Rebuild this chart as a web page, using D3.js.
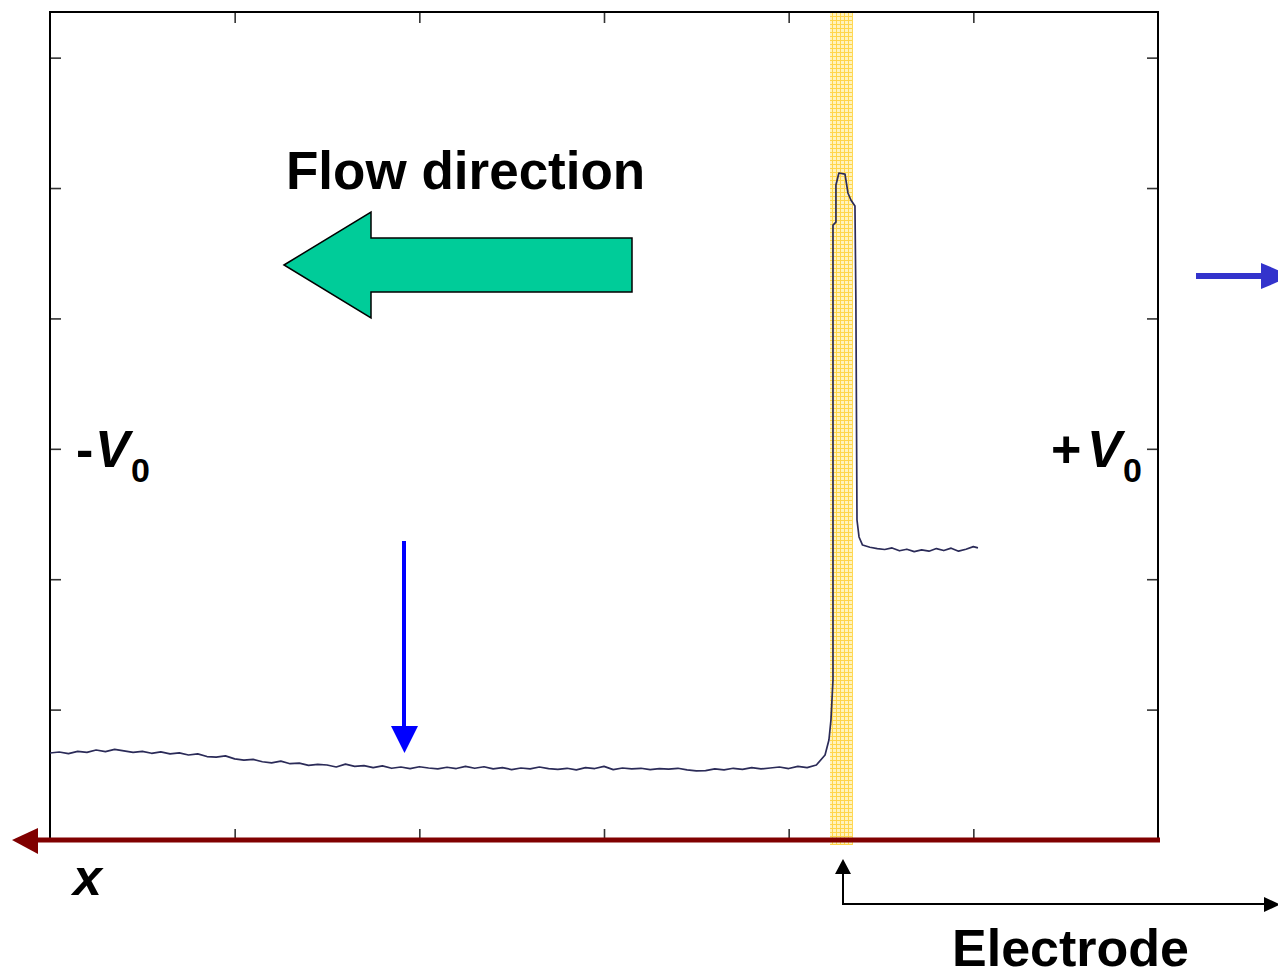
<!DOCTYPE html>
<html>
<head>
<meta charset="utf-8">
<script src="https://cdn.jsdelivr.net/npm/d3@7/dist/d3.min.js"></script>
<style>
  html, body { margin: 0; padding: 0; background: #fff; }
  svg { display: block; }
  text { font-family: "Liberation Sans", Arial, sans-serif; font-weight: bold; fill: #000; }
</style>
</head>
<body>
<svg id="chart" width="1278" height="977"></svg>
<script>
// tick positions (unlabelled in the original)
const xTicks = [1, 2, 3, 4, 5];
const yTicks = [1, 2, 3, 4, 5, 6];

// electrode band, in x units
const electrode = [4.224, 4.348];

// signal: [x, y]
const baseline = [
    [0.00, 0.667], [0.05, 0.675], [0.10, 0.662], [0.15, 0.680], [0.20, 0.672], [0.25, 0.690],
    [0.30, 0.678], [0.35, 0.695], [0.40, 0.684], [0.45, 0.672], [0.50, 0.680], [0.55, 0.665],
    [0.60, 0.676], [0.65, 0.660], [0.70, 0.668], [0.75, 0.652], [0.80, 0.660], [0.85, 0.640],
    [0.90, 0.635], [0.95, 0.645], [1.00, 0.622], [1.05, 0.612], [1.10, 0.618], [1.15, 0.600],
    [1.20, 0.592], [1.25, 0.605], [1.30, 0.585], [1.35, 0.590], [1.40, 0.572], [1.45, 0.580],
    [1.50, 0.575], [1.55, 0.560], [1.60, 0.582], [1.65, 0.565], [1.70, 0.570], [1.75, 0.555],
    [1.80, 0.568], [1.85, 0.550], [1.90, 0.560], [1.95, 0.548], [2.00, 0.562], [2.05, 0.552],
    [2.10, 0.545], [2.15, 0.558], [2.20, 0.548], [2.25, 0.565], [2.30, 0.550], [2.35, 0.562],
    [2.40, 0.545], [2.45, 0.555], [2.50, 0.540], [2.55, 0.552], [2.60, 0.545], [2.65, 0.560],
    [2.70, 0.548], [2.75, 0.542], [2.80, 0.550], [2.85, 0.538], [2.90, 0.555], [2.95, 0.548],
    [3.00, 0.565], [3.05, 0.540], [3.10, 0.552], [3.15, 0.545], [3.20, 0.550], [3.25, 0.540],
    [3.30, 0.548], [3.35, 0.543], [3.40, 0.550], [3.45, 0.538], [3.50, 0.530], [3.55, 0.532],
    [3.60, 0.545], [3.65, 0.538], [3.70, 0.550], [3.75, 0.542], [3.80, 0.555], [3.85, 0.545],
    [3.90, 0.552], [3.95, 0.560], [4.00, 0.548], [4.05, 0.565], [4.10, 0.555], [4.15, 0.575]
];
const peak = [
    [4.197, 0.652], [4.218, 0.767], [4.229, 0.920], [4.240, 1.227], [4.240, 4.716],
    [4.256, 4.739], [4.256, 5.023], [4.272, 5.115], [4.305, 5.107], [4.321, 4.962],
    [4.337, 4.908], [4.359, 4.862], [4.364, 4.141], [4.370, 2.454], [4.381, 2.324]
];
const plateau = [
    [4.40, 2.262], [4.44, 2.245], [4.48, 2.235], [4.52, 2.228], [4.56, 2.240], [4.60, 2.218],
    [4.64, 2.230], [4.68, 2.212], [4.72, 2.225], [4.76, 2.215], [4.80, 2.235], [4.84, 2.220],
    [4.88, 2.238], [4.92, 2.215], [4.96, 2.230], [5.00, 2.250], [5.025, 2.240]
];

const svg = d3.select('#chart');
const plotLeft = 50, plotRight = 1158, plotTop = 12, plotBottom = 840;

const x = d3.scaleLinear().domain([0, 6]).range([plotLeft, plotRight]);
const y = d3.scaleLinear().domain([0, 6.35]).range([plotBottom, plotTop]);

// light yellow grid fill for the electrode
const defs = svg.append('defs');
const pat = defs.append('pattern')
    .attr('id', 'dots')
    .attr('width', 4).attr('height', 4)
    .attr('patternUnits', 'userSpaceOnUse');
pat.append('rect').attr('width', 4).attr('height', 4).attr('fill', '#fff3bd');
pat.append('rect').attr('width', 1).attr('height', 4).attr('fill', '#ffd54a');
pat.append('rect').attr('width', 4).attr('height', 1).attr('fill', '#ffd54a');

svg.append('rect')
    .attr('x', x(electrode[0]))
    .attr('y', plotTop)
    .attr('width', x(electrode[1]) - x(electrode[0]))
    .attr('height', 845 - plotTop)
    .attr('fill', 'url(#dots)');

// ticks on all four sides, pointing inwards
const tickLen = -11;
const axes = [
    [d3.axisTop(x).tickValues(xTicks), `translate(0,${plotTop})`],
    [d3.axisBottom(x).tickValues(xTicks), `translate(0,${plotBottom})`],
    [d3.axisLeft(y).tickValues(yTicks), `translate(${plotLeft},0)`],
    [d3.axisRight(y).tickValues(yTicks), `translate(${plotRight},0)`]
];
axes.forEach(([axis, tr]) => {
    const g = svg.append('g')
        .attr('transform', tr)
        .call(axis.tickSizeInner(tickLen).tickSizeOuter(0).tickFormat(''));
    g.select('.domain').remove();
    g.selectAll('line').attr('stroke', '#333').attr('stroke-width', 1.6);
});

// frame
svg.append('rect')
    .attr('x', plotLeft).attr('y', plotTop)
    .attr('width', plotRight - plotLeft).attr('height', plotBottom - plotTop)
    .attr('fill', 'none')
    .attr('stroke', '#000')
    .attr('stroke-width', 2);

// signal trace
const line = d3.line().x(d => x(d[0])).y(d => y(d[1]));
svg.append('path')
    .datum(baseline.concat(peak, plateau))
    .attr('d', line)
    .attr('fill', 'none')
    .attr('stroke', '#2b2b58')
    .attr('stroke-width', 1.7)
    .attr('stroke-linejoin', 'round');

// red x axis with arrow to the left
svg.append('line')
    .attr('x1', 36).attr('x2', 1160)
    .attr('y1', plotBottom).attr('y2', plotBottom)
    .attr('stroke', '#800000')
    .attr('stroke-width', 5);
svg.append('polygon')
    .attr('points', '12,840 38,828 38,854')
    .attr('fill', '#800000');

// flow direction arrow
svg.append('polygon')
    .attr('points', '284,265 371,212 371,238 632,238 632,292 371,292 371,318')
    .attr('fill', '#00cc99')
    .attr('stroke', '#000')
    .attr('stroke-width', 1.5);

svg.append('text')
    .attr('x', 286).attr('y', 189)
    .attr('font-size', 53)
    .text('Flow direction');

// blue down arrow
svg.append('line')
    .attr('x1', 404).attr('x2', 404)
    .attr('y1', 541).attr('y2', 730)
    .attr('stroke', '#0000ff')
    .attr('stroke-width', 4);
svg.append('polygon')
    .attr('points', '391,726 418,726 404.5,753')
    .attr('fill', '#0000ff');

// blue right arrow (cut by the edge)
svg.append('line')
    .attr('x1', 1196).attr('x2', 1264)
    .attr('y1', 276).attr('y2', 276)
    .attr('stroke', '#3333cc')
    .attr('stroke-width', 6);
svg.append('polygon')
    .attr('points', '1261,263 1261,289 1292,276')
    .attr('fill', '#3333cc');

// potentials: sign, italic V, subscript 0
function potential(sign, sx, vx, zx) {
    const t = svg.append('text').attr('y', 467).attr('font-size', 52);
    t.append('tspan').attr('x', sx).text(sign);
    t.append('tspan').attr('x', vx).attr('font-style', 'italic').text('V');
    svg.append('text').attr('x', zx).attr('y', 482).attr('font-size', 34).text('0');
}
potential('-', 76, 95, 131);
potential('+', 1051, 1087, 1123);

svg.append('text')
    .attr('x', 73).attr('y', 895)
    .attr('font-size', 52)
    .attr('font-style', 'italic')
    .text('x');

// electrode pointer
svg.append('path')
    .attr('d', 'M843,874 V904 H1266')
    .attr('fill', 'none')
    .attr('stroke', '#000')
    .attr('stroke-width', 2);
svg.append('polygon').attr('points', '843,859 835,874 851,874').attr('fill', '#000');
svg.append('polygon').attr('points', '1264,897 1264,912 1280,904.5').attr('fill', '#000');

svg.append('text')
    .attr('x', 952).attr('y', 966)
    .attr('font-size', 52)
    .text('Electrode');
</script>
</body>
</html>
